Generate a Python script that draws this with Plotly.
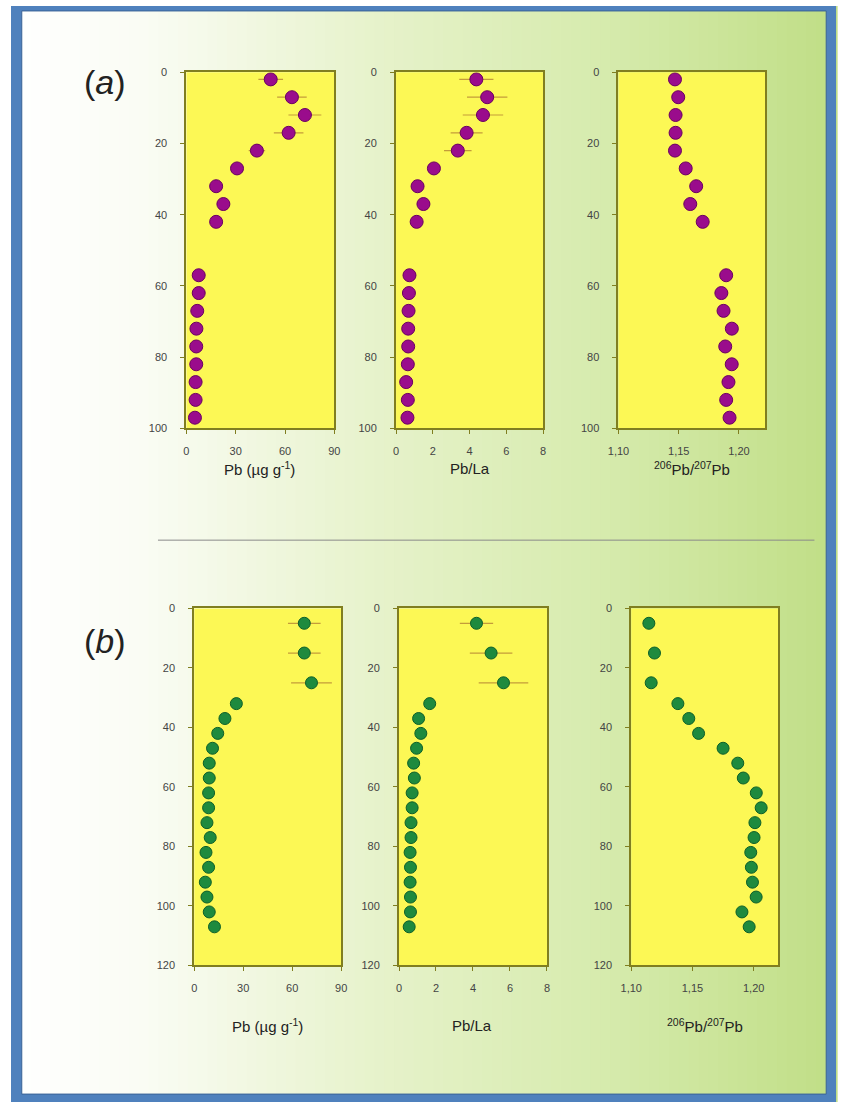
import plotly.graph_objects as go

# ---------------- data ----------------
depth_a = [2, 7, 12, 17, 22, 27, 32, 37, 42, 57, 62, 67, 72, 77, 82, 87, 92, 97]
pb_a = [51.3, 64.2, 72.1, 62.2, 42.9, 30.8, 18.1, 22.5, 18.1, 7.5, 7.5, 6.6, 6.1, 6.0, 6.0, 5.6, 5.6, 5.2]
pb_a_err = [7.5, 9.0, 10.0, 9.0, 5.0, 3.0, 2.0, 2.0, 2.0, 1.0, 1.0, 1.0, 1.0, 1.0, 1.0, 1.0, 1.0, 1.0]
pbla_a = [4.37, 4.96, 4.73, 3.84, 3.36, 2.06, 1.17, 1.49, 1.12, 0.73, 0.70, 0.68, 0.66, 0.66, 0.64, 0.55, 0.64, 0.62]
pbla_a_err = [0.93, 1.10, 1.10, 0.87, 0.75, 0.30, 0.20, 0.20, 0.20, 0.10, 0.10, 0.10, 0.10, 0.10, 0.10, 0.10, 0.10, 0.10]
ratio_a = [1.1469, 1.1496, 1.1474, 1.1474, 1.1469, 1.1558, 1.1645, 1.1596, 1.1699,
           1.1894, 1.1854, 1.1872, 1.1941, 1.1886, 1.1940, 1.1913, 1.1894, 1.1922]

depth_b = [5, 15, 25, 32, 37, 42, 47, 52, 57, 62, 67, 72, 77, 82, 87, 92, 97, 102, 107]
pb_b = [67.4, 67.4, 71.8, 25.8, 18.8, 14.4, 11.2, 9.2, 9.2, 8.8, 8.8, 7.8, 9.8, 7.2, 8.8, 6.8, 7.8, 9.2, 12.4]
pb_b_err = [10.0, 10.0, 12.5, 2.0, 1.5, 1.0, 1.0, 1.0, 1.0, 1.0, 1.0, 1.0, 1.0, 1.0, 1.0, 1.0, 1.0, 1.0, 1.0]
pbla_b = [4.19, 4.98, 5.65, 1.66, 1.06, 1.18, 0.95, 0.79, 0.83, 0.71, 0.71, 0.65, 0.65, 0.60, 0.62, 0.60, 0.62, 0.62, 0.55]
pbla_b_err = [0.90, 1.15, 1.34, 0.30, 0.15, 0.15, 0.10, 0.10, 0.10, 0.10, 0.10, 0.10, 0.10, 0.10, 0.10, 0.10, 0.10, 0.10, 0.10]
ratio_b = [1.1144, 1.1190, 1.1163, 1.1381, 1.1470, 1.1550, 1.1750, 1.1870, 1.1915, 1.2021,
           1.2061, 1.2010, 1.2003, 1.1976, 1.1981, 1.1990, 1.2020, 1.1904, 1.1963]

ratio_ticks = [1.10, 1.15, 1.20]
ratio_ticktext = ["1,10", "1,15", "1,20"]
label_pb = "Pb (µg g<sup>-1</sup>)"
label_pbla = "Pb/La"
label_ratio = "<sup>206</sup>Pb/<sup>207</sup>Pb"

# ---------------- layout helpers ----------------
W, H = 842, 1108
FONT = "Liberation Sans, Arial, sans-serif"
PURPLE = "#9a0c8c"
PURPLE_EDGE = "#6a0060"
GREEN = "#1e8a3e"
GREEN_EDGE = "#0d5f28"
ERR = "rgba(190,145,55,0.9)"
FRAME = "#807e20"
YELLOW = "#fcf855"

def px_dom_x(x0, x1):
    return [x0 / W, x1 / W]

def px_dom_y(y0, y1):
    return [1 - y1 / H, 1 - y0 / H]

fig = go.Figure()

panels = [
    (pb_a, depth_a, pb_a_err, PURPLE, PURPLE_EDGE, 13, (179, 330), (67, 427), [0, 90], [100, 0], dict(tickvals=[0, 30, 60, 90])),
    (pbla_a, depth_a, pbla_a_err, PURPLE, PURPLE_EDGE, 13, (393, 543), (67, 427), [0, 8], [100, 0], dict(tickvals=[0, 2, 4, 6, 8])),
    (ratio_a, depth_a, None, PURPLE, PURPLE_EDGE, 13, (620, 770), (67, 427), [1.10, 1.222], [100, 0], dict(tickvals=ratio_ticks, ticktext=ratio_ticktext)),
    (pb_b, depth_b, pb_b_err, GREEN, GREEN_EDGE, 12, (187, 337), (609, 970), [0, 90], [120, 0], dict(tickvals=[0, 30, 60, 90])),
    (pbla_b, depth_b, pbla_b_err, GREEN, GREEN_EDGE, 12, (396, 547), (609, 970), [0, 8], [120, 0], dict(tickvals=[0, 2, 4, 6, 8])),
    (ratio_b, depth_b, None, GREEN, GREEN_EDGE, 12, (633, 783), (609, 970), [1.10, 1.22], [120, 0], dict(tickvals=ratio_ticks, ticktext=ratio_ticktext)),
]

axis_common = dict(
    showline=True, linecolor=FRAME, linewidth=2, mirror=True,
    ticks="outside", ticklen=4, tickcolor=FRAME, tickwidth=1,
    showgrid=False, zeroline=False,
    tickfont=dict(family=FONT, size=11, color="#444444"),
)

layout_axes = {}
for i, (xv, yv, ev, col, edge, size, xd, yd, xr, yr, tk) in enumerate(panels, start=1):
    sfx = "" if i == 1 else str(i)
    tr = dict(
        x=xv, y=yv, mode="markers",
        marker=dict(color=col, size=size, line=dict(color=edge, width=1)),
        xaxis="x" + sfx, yaxis="y" + sfx, showlegend=False, hoverinfo="x+y",
    )
    if ev is not None:
        tr["error_x"] = dict(type="data", array=ev, visible=True, color=ERR, thickness=1.2, width=0)
    fig.add_trace(go.Scatter(**tr))
    xa = dict(axis_common, domain=px_dom_x(*xd), range=xr, anchor="y" + sfx,
              tickmode="array", ticklabelstandoff=7, **tk)
    ya = dict(axis_common, domain=px_dom_y(*yd), range=yr, anchor="x" + sfx,
              tickmode="array", tickvals=list(range(0, yr[0] + 1, 20)), ticklabelstandoff=11)
    layout_axes["xaxis" + sfx] = xa
    layout_axes["yaxis" + sfx] = ya

# ---------------- background gradient ----------------
shapes = []
stops = [(0.0, (255, 255, 255)), (0.16, (250, 252, 244)), (0.45, (230, 242, 202)),
         (0.72, (214, 235, 173)), (1.0, (192, 222, 134))]

def grad(t):
    for (t0, c0), (t1, c1) in zip(stops[:-1], stops[1:]):
        if t0 <= t <= t1:
            f = (t - t0) / (t1 - t0)
            return tuple(int(round(c0[k] + (c1[k] - c0[k]) * f)) for k in range(3))
    return stops[-1][1]

N = 84
for k in range(N):
    t = (k + 0.5) / N
    r, g, b = grad(t)
    shapes.append(dict(type="rect", xref="paper", yref="paper", x0=k / N, x1=(k + 1) / N + 0.002,
                       y0=0, y1=1, fillcolor=f"rgb({r},{g},{b})", line=dict(width=0), layer="below"))

# blue frame
BLUE = "#4f81bd"
BLUE_D = "#3a6396"
shapes += [
    dict(type="rect", xref="paper", yref="paper", x0=0, x1=11 / W, y0=0, y1=1, fillcolor=BLUE, line=dict(width=0), layer="below"),
    dict(type="rect", xref="paper", yref="paper", x0=1 - 10 / W, x1=1, y0=0, y1=1, fillcolor=BLUE, line=dict(width=0), layer="below"),
    dict(type="rect", xref="paper", yref="paper", x0=0, x1=1, y0=1 - 5 / H, y1=1, fillcolor=BLUE, line=dict(width=0), layer="below"),
    dict(type="rect", xref="paper", yref="paper", x0=0, x1=1, y0=0, y1=8 / H, fillcolor=BLUE, line=dict(width=0), layer="below"),
    dict(type="rect", xref="paper", yref="paper", x0=11 / W, x1=1 - 10 / W, y0=8 / H, y1=1 - 5 / H,
         fillcolor="rgba(0,0,0,0)", line=dict(color=BLUE_D, width=1), layer="below"),
]
# yellow plot areas (drawn over the gradient)
for i in range(1, 7):
    sfx = "" if i == 1 else str(i)
    shapes.append(dict(type="rect", xref="x" + sfx + " domain", yref="y" + sfx + " domain",
                       x0=0, x1=1, y0=0, y1=1, fillcolor=YELLOW, line=dict(width=0), layer="below"))
# separator line
shapes.append(dict(type="line", xref="paper", yref="paper", x0=150 / W, x1=820 / W,
                   y0=1 - 540 / H, y1=1 - 540 / H, line=dict(color="#8a8a8a", width=1)))

# ---------------- annotations ----------------
ann = []
def add_text(txt, x, y, size):
    ann.append(dict(text=txt, x=x / W, y=1 - y / H, xref="paper", yref="paper",
                    showarrow=False, xanchor="center", yanchor="middle",
                    font=dict(family=FONT, size=size, color="#222222")))

add_text("(<i>a</i>)", 96, 77, 34)
add_text("(<i>b</i>)", 96, 642, 34)
for (xc, yc, txt) in [(254, 468, label_pb), (468, 468, label_pbla), (695, 468, label_ratio),
                      (262, 1031, label_pb), (471, 1031, label_pbla), (708, 1031, label_ratio)]:
    add_text(txt, xc, yc, 15)

fig.update_layout(
    width=W, height=H, margin=dict(l=0, r=0, t=0, b=0),
    paper_bgcolor="white", plot_bgcolor=YELLOW,
    shapes=shapes, annotations=ann, showlegend=False,
    **layout_axes,
)

fig.write_html("out.html")
